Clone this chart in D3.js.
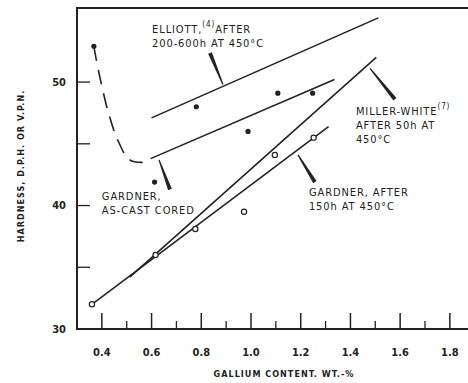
<!DOCTYPE html>
<html>
<head>
  <meta http-equiv="content-type" content="text/html; charset=utf-8">
  <title>Hardness vs gallium content</title>
  <style>
    body { margin: 0; background: #fff; }
    text { font-family: "DejaVu Sans Condensed", "DejaVu Sans", sans-serif; fill: #222; }
    .lbl { font-size: 11px; letter-spacing: 0.9px; }
    .tick_lbl { font-size: 11px; font-weight: bold; }
    .axis_title { font-size: 9px; font-weight: bold; letter-spacing: 1px; }
    .fit { fill: none; stroke: #222; stroke-width: 1.6px; }
  </style>
</head>
<body>
  <svg id="canvas"></svg>
  <script src="https://d3js.org/d3.v7.min.js"></script>
  <script>
    // filled points (Gardner, as-cast cored)
    const ascast = [[0.368, 52.9], [0.612, 41.9], [0.78, 48.0], [0.988, 46.0], [1.108, 49.1], [1.248, 49.1]];
    // open points (Gardner, after 150h at 450C)
    const aged = [[0.36, 32.0], [0.616, 36.0], [0.776, 38.1], [0.972, 39.5], [1.096, 44.1], [1.252, 45.5]];
    // dashed curve through the low-gallium as-cast values
    const dashCurve = [[0.368, 52.9], [0.372, 52.4], [0.392, 50.4], [0.424, 47.7], [0.464, 45.3], [0.512, 43.7], [0.564, 43.5]];
    // straight fitted lines [start, end]
    const fits = [
      [[0.60, 47.1], [1.512, 55.2]],   // Elliott
      [[0.596, 43.8], [1.336, 50.2]],  // Gardner as-cast
      [[0.512, 34.2], [1.504, 52.0]],  // Miller-White
      [[0.36, 32.0], [1.312, 46.4]]    // Gardner after 150h
    ];
    // pointers from label to line [label end, line end]
    const pointers = [
      [[0.835, 52.35], [0.887, 49.8]],
      [[0.674, 41.3], [0.630, 43.7]],
      [[1.579, 48.6], [1.479, 51.1]],
      [[1.257, 41.9], [1.189, 44.1]]
    ];
    const xMajor = [0.4, 0.6, 0.8, 1.0, 1.2, 1.4, 1.6, 1.8];
    const xMinor = [0.5, 0.7, 0.9, 1.1, 1.3, 1.5, 1.7];
    const xLabels = ["0.4", "0.6", "0.8", "1.0", "1.2", "1.4", "1.6", "1.8"];
    const yMajor = [30, 40, 50];
    const yMinor = [35, 45];

    const W = 468, H = 383;
    const svg = d3.select("#canvas").attr("width", W).attr("height", H);

    const x = d3.scaleLinear().domain([0.3, 1.873]).range([77, 468]);
    const y = d3.scaleLinear().domain([30, 56]).range([329, 8]);

    // frame: left, top, bottom
    svg.append("path")
      .attr("d", "M" + x(1.873) + "," + y(56) + "H" + x(0.3) + "V" + y(30) + "H" + x(1.873))
      .attr("fill", "none").attr("stroke", "#222").attr("stroke-width", 2);

    // x ticks point inwards
    svg.selectAll(".xmaj").data(xMajor).enter().append("line")
      .attr("x1", d => x(d)).attr("x2", d => x(d))
      .attr("y1", y(30)).attr("y2", y(30) - 16)
      .attr("stroke", "#222").attr("stroke-width", 1.5);
    svg.selectAll(".xmin").data(xMinor).enter().append("line")
      .attr("x1", d => x(d)).attr("x2", d => x(d))
      .attr("y1", y(30)).attr("y2", y(30) - 8)
      .attr("stroke", "#222").attr("stroke-width", 1.3);
    svg.selectAll(".xlbl").data(xMajor).enter().append("text")
      .attr("class", "tick_lbl")
      .attr("x", d => x(d)).attr("y", y(30) + 27)
      .attr("text-anchor", "middle")
      .text((d, i) => xLabels[i]);

    svg.selectAll(".ytick").data(yMajor.concat(yMinor)).enter().append("line")
      .attr("x1", x(0.3)).attr("x2", x(0.3) + 13)
      .attr("y1", d => y(d)).attr("y2", d => y(d))
      .attr("stroke", "#222").attr("stroke-width", 1.3);
    svg.selectAll(".ylbl").data(yMajor).enter().append("text")
      .attr("class", "tick_lbl")
      .attr("x", 66).attr("y", d => y(d))
      .attr("dy", "0.35em")
      .attr("text-anchor", "end")
      .text(d => d);

    svg.append("text").attr("class", "axis_title")
      .attr("x", 284).attr("y", 377)
      .attr("text-anchor", "middle")
      .text("GALLIUM CONTENT. WT.-%");
    svg.append("text").attr("class", "axis_title")
      .attr("transform", "translate(24,166)rotate(-90)")
      .attr("text-anchor", "middle")
      .text("HARDNESS, D.P.H. OR V.P.N.");

    const line = d3.line().x(d => x(d[0])).y(d => y(d[1]));

    svg.selectAll(".fit").data(fits).enter().append("path")
      .attr("class", "fit")
      .attr("d", line);

    svg.append("path")
      .attr("class", "fit")
      .attr("stroke-dasharray", "15,9")
      .attr("d", line.curve(d3.curveCatmullRom)(dashCurve));
    line.curve(d3.curveLinear);

    // tapered pointers: thick at the label, thin at the line
    svg.selectAll(".ptr").data(pointers).enter().append("path")
      .attr("fill", "#222")
      .attr("d", p => {
        const x0 = x(p[0][0]), y0 = y(p[0][1]), x1 = x(p[1][0]), y1 = y(p[1][1]);
        const len = Math.hypot(x1 - x0, y1 - y0);
        const nx = -(y1 - y0) / len, ny = (x1 - x0) / len;
        const w0 = 2.0, w1 = 0.6;
        return "M" + (x0 + nx * w0) + "," + (y0 + ny * w0) +
          "L" + (x1 + nx * w1) + "," + (y1 + ny * w1) +
          "L" + (x1 - nx * w1) + "," + (y1 - ny * w1) +
          "L" + (x0 - nx * w0) + "," + (y0 - ny * w0) + "Z";
      });

    svg.selectAll(".dot").data(ascast).enter().append("circle")
      .attr("cx", d => x(d[0])).attr("cy", d => y(d[1]))
      .attr("r", 2.6).attr("fill", "#222");
    svg.selectAll(".odot").data(aged).enter().append("circle")
      .attr("cx", d => x(d[0])).attr("cy", d => y(d[1]))
      .attr("r", 2.6).attr("fill", "#fff").attr("stroke", "#222").attr("stroke-width", 1.2);

    const addLabel = (xv, yv, lines, sup) => {
      const t = svg.append("text").attr("class", "lbl")
        .attr("transform", "translate(" + x(xv) + "," + y(yv) + ")");
      lines.forEach((s, i) => {
        const ts = t.append("tspan").attr("x", 0).attr("y", i * 14);
        if (Array.isArray(s)) {
          ts.text(s[0]);
          ts.append("tspan").attr("dy", -6).attr("font-size", "8px").text(s[1]);
          ts.append("tspan").attr("dy", 6).text(s[2]);
        } else ts.text(s);
      });
    };
    addLabel(0.602, 53.97, [["ELLIOTT,", "(4)", "AFTER"], "200-600h AT 450°C"]);
    addLabel(1.422, 47.33, [["MILLER-WHITE", "(7)", ""], "AFTER 50h AT", "450°C"]);
    addLabel(1.233, 40.77, ["GARDNER, AFTER", "150h AT 450°C"]);
    addLabel(0.40, 40.45, ["GARDNER,", "AS-CAST CORED"]);
  </script>
</body>
</html>
